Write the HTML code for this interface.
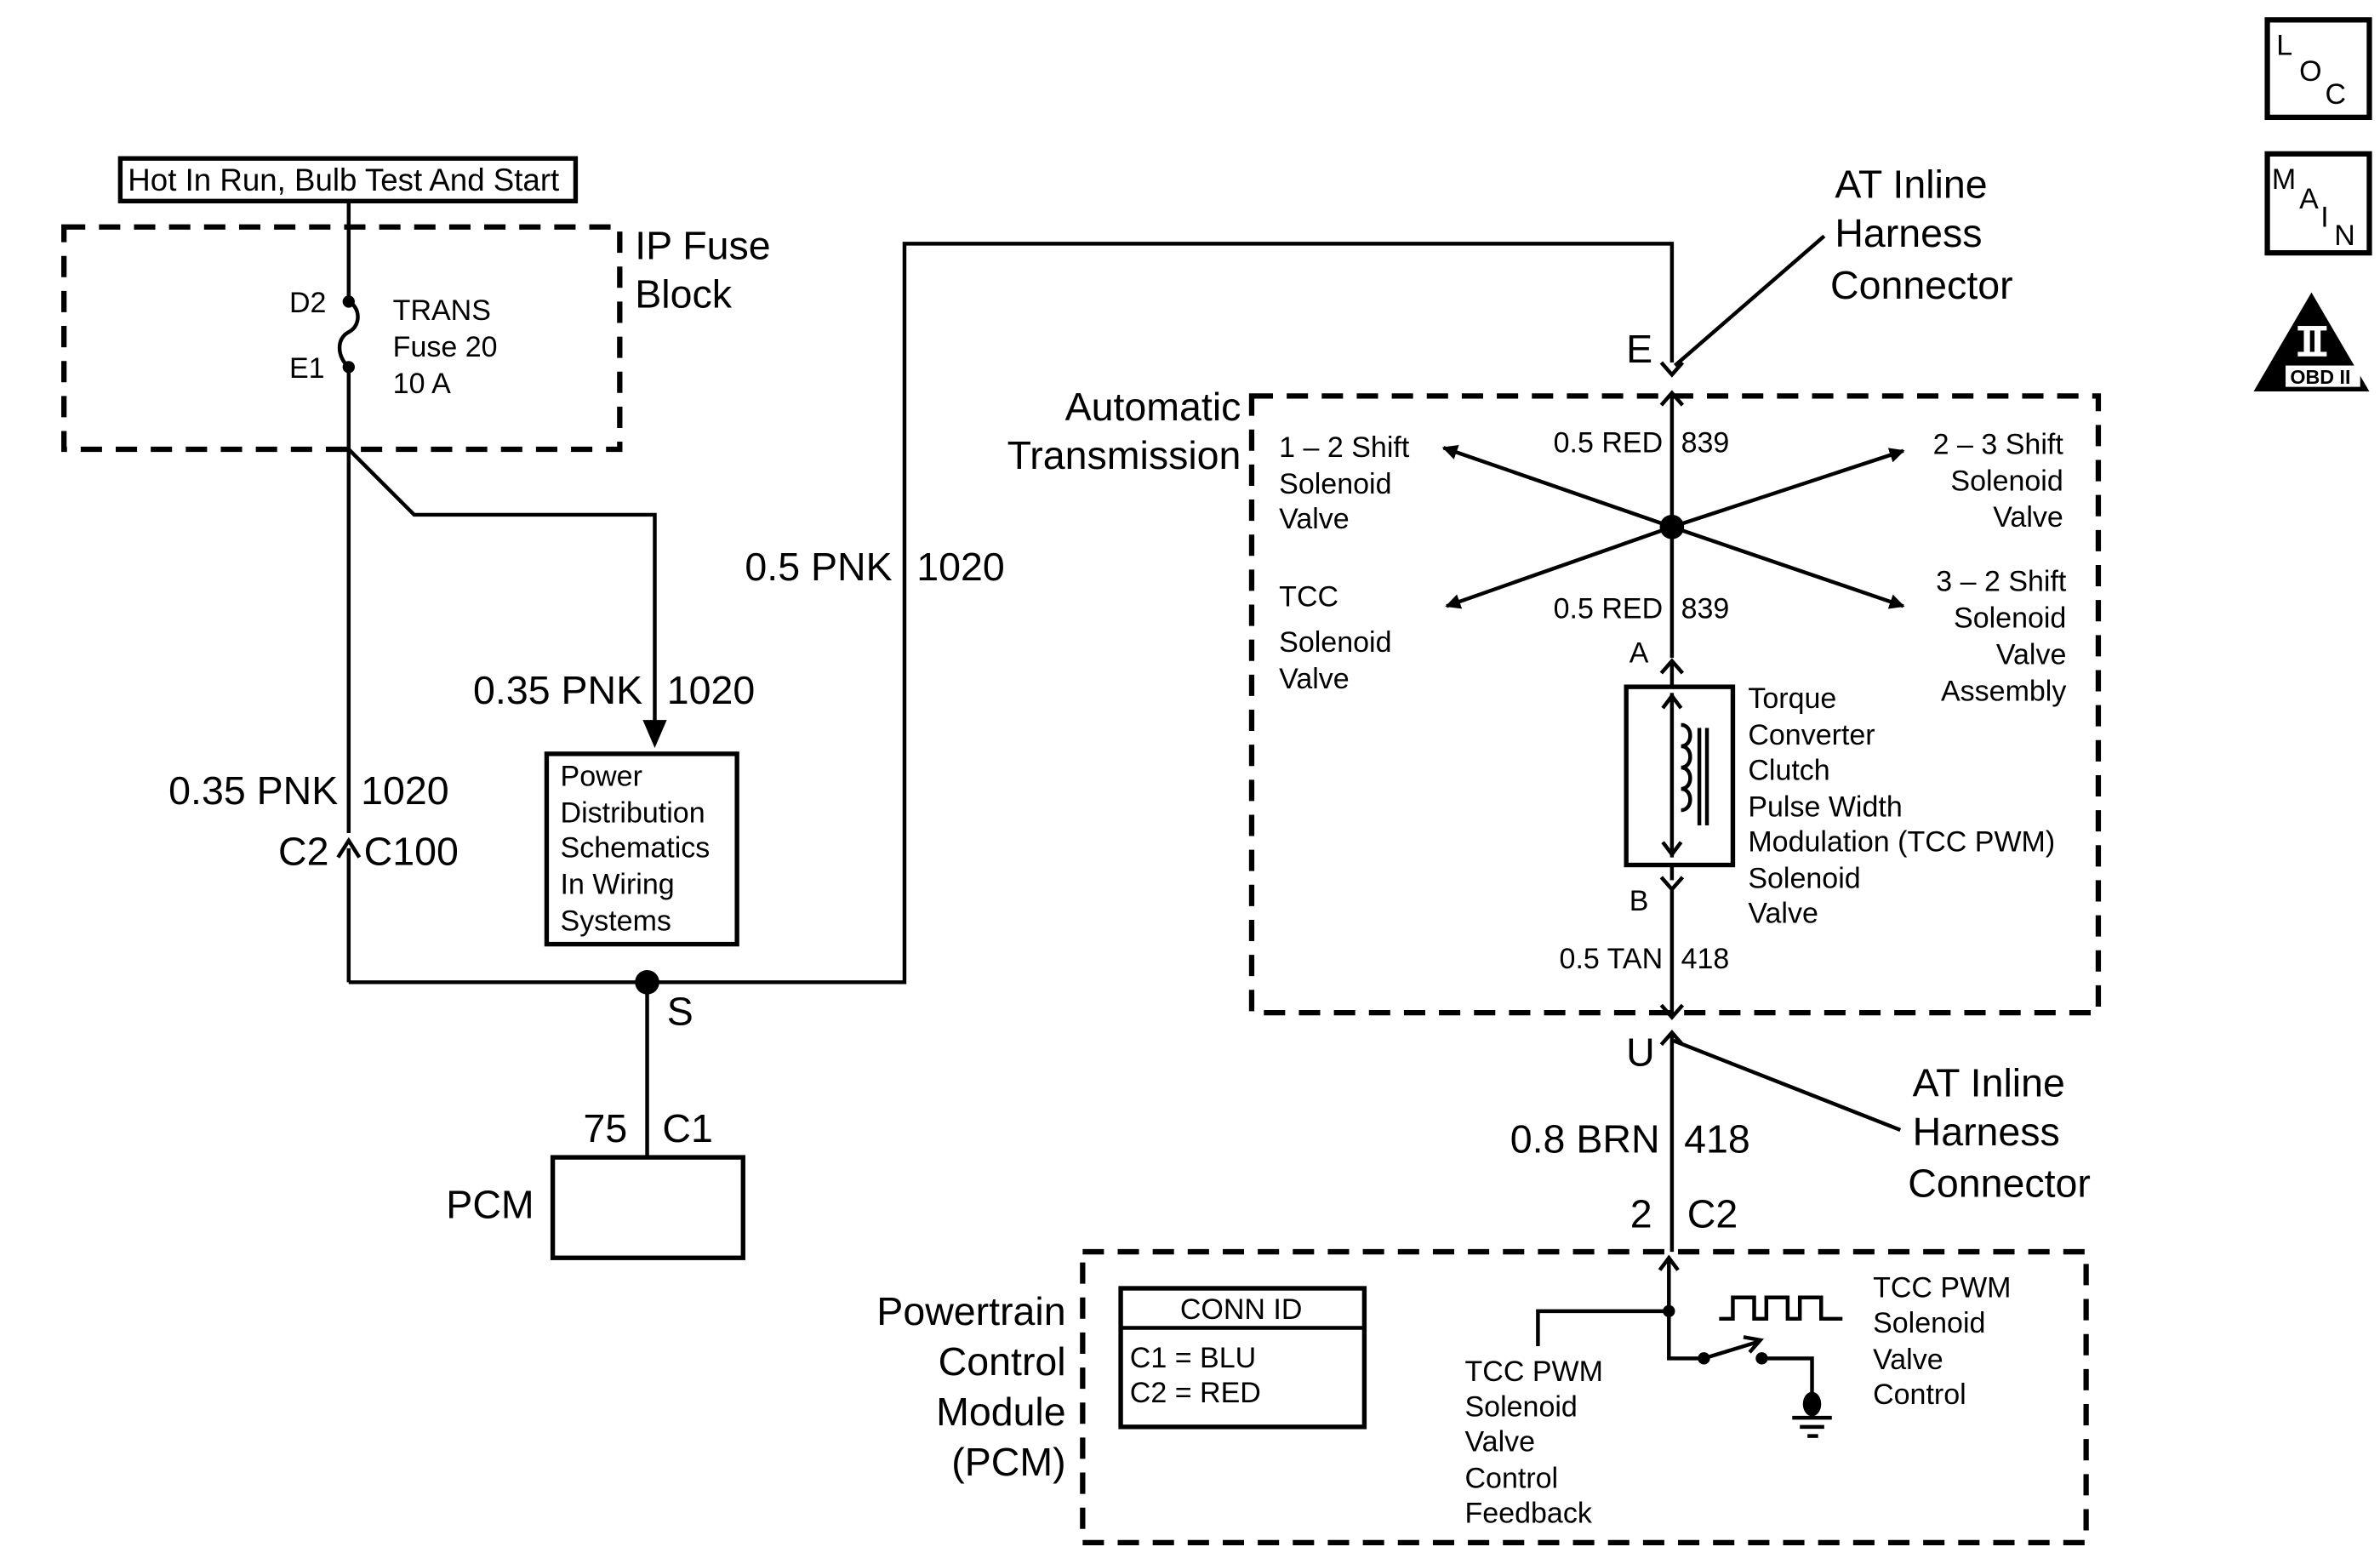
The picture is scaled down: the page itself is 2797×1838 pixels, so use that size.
<!DOCTYPE html>
<html><head><meta charset="utf-8"><style>
html,body{margin:0;padding:0;background:#fff;}
svg{display:block;}
text{font-family:"Liberation Sans",Arial,sans-serif;fill:#000;}
</style></head><body>
<svg width="2797" height="1838" viewBox="0 0 1563 1027" xmlns="http://www.w3.org/2000/svg">
<defs>
<marker id="ar" markerWidth="10" markerHeight="10" refX="9" refY="5" orient="auto" markerUnits="userSpaceOnUse"><path d="M0,0 L10,5 L0,10 z" fill="#000"/></marker>
</defs>
<g fill="none" stroke="#000" stroke-width="2.5">
<rect x="79" y="104" width="299" height="28" stroke-width="3"/>
<rect x="42" y="149" width="365" height="146" stroke-width="3.5" stroke-dasharray="14,9"/>
<rect x="822" y="260" width="556" height="405" stroke-width="3.5" stroke-dasharray="14,9"/>
<rect x="711" y="822" width="659" height="191" stroke-width="3.5" stroke-dasharray="14,9"/>
<path d="M229,132 V198"/>
<path d="M229,198 c8,4 8,16 0,20 c-8,4 -8,16 0,23"/>
<path d="M229,241 V547 M229,557 V645"/>
<path d="M222,563 L229,552 L236,563"/>
<path d="M229,295 L272,338 H430 V482" />
<path d="M424,474 L430,488 L436,474 Z" fill="#000"/>
<rect x="359" y="495" width="125" height="125" stroke-width="3"/>
<path d="M229,645 H594 V160 H1098 V238"/>
<path d="M425,645 V760"/>
<rect x="363" y="760" width="125" height="66" stroke-width="3"/>
<path d="M1091,238 L1098,246 L1105,238"/>
<path d="M1091,266 L1098,258 L1105,266"/>
<path d="M1098,258 V432"/>
<path d="M1100,240 L1198,155"/>
<line x1="1098" y1="346" x2="948" y2="294" marker-end="url(#ar)"/>
<line x1="1098" y1="346" x2="1250" y2="296" marker-end="url(#ar)"/>
<line x1="1098" y1="346" x2="950" y2="398" marker-end="url(#ar)"/>
<line x1="1098" y1="346" x2="1250" y2="398" marker-end="url(#ar)"/>
<path d="M1091,442 L1098,434 L1105,442"/>
<path d="M1098,434 V451"/>
<rect x="1068" y="451" width="70" height="117" stroke-width="3"/>
<path d="M1098,455 V563"/>
<path d="M1092,465 L1098,457 L1104,465 M1092,553 L1098,561 L1104,553"/>
<path d="M1104,476 c8,0 8,14 0,14 c8,0 8,14 0,14 c8,0 8,14 0,14 c8,0 8,14 0,14"/>
<path d="M1116,478 V542 M1121,478 V542"/>
<path d="M1098,568 V578"/>
<path d="M1091,576 L1098,584 L1105,576"/>
<path d="M1098,584 V666"/>
<path d="M1091,660 L1098,668 L1105,660"/>
<path d="M1091,686 L1098,678 L1105,686"/>
<path d="M1098,678 V822"/>
<path d="M1098,683 L1248,742"/>
<!-- inside PCM -->
<path d="M1090,834 L1096,826 L1102,834"/>
<path d="M1096,826 V892 H1119"/>
<path d="M1096,861 H1010 V884"/>
<path d="M1119,892 L1155,881"/>
<path d="M1145,878 L1156,880 L1149,888" />
<path d="M1157,892 H1190 V918"/>
<path d="M1177,931 H1203 M1182,937 H1198" />
<path d="M1187,943 H1194"/>
<path d="M1129,866 H1138 V852 H1152 V866 H1160 V852 H1174 V866 H1182 V852 H1196 V866 H1210"/>
<rect x="736" y="846" width="160" height="91" stroke-width="3"/>
<path d="M736,872 H896"/>
<rect x="1489" y="13" width="67" height="64" stroke-width="3.5"/>
<rect x="1489" y="101" width="67" height="65" stroke-width="3.5"/>
</g>
<g fill="#000">
<circle cx="229" cy="198" r="4"/><circle cx="229" cy="241" r="4"/>
<circle cx="425" cy="645" r="8"/>
<circle cx="1098" cy="346" r="8"/>
<circle cx="1096" cy="861" r="4"/>
<circle cx="1119" cy="892" r="4"/><circle cx="1157" cy="892" r="4"/>
<ellipse cx="1190" cy="922" rx="6" ry="8"/>
<path d="M1518,192 L1556,257 L1480,257 Z"/>
</g>
<rect x="1501" y="240" width="49" height="14" fill="#fff"/>
<rect x="1509" y="214" width="19" height="3" fill="#fff"/>
<rect x="1509" y="231" width="19" height="3" fill="#fff"/>
<rect x="1513" y="216" width="4" height="16" fill="#fff"/>
<rect x="1520" y="216" width="4" height="16" fill="#fff"/>
<text x="1504" y="252" font-size="13" font-weight="bold">OBD II</text>
<text x="1495" y="36" font-size="19">L</text><text x="1510" y="53" font-size="19">O</text><text x="1527" y="68" font-size="19">C</text>
<text x="1492" y="124" font-size="19">M</text><text x="1510" y="137" font-size="19">A</text><text x="1524" y="149" font-size="19">I</text><text x="1533" y="161" font-size="19">N</text>

<g font-size="19">
<text x="84" y="125" font-size="20.5">Hot In Run, Bulb Test And Start</text>
<text x="190" y="205">D2</text><text x="190" y="248">E1</text>
<text x="258" y="210">TRANS</text><text x="258" y="234">Fuse 20</text><text x="258" y="258">10 A</text>
<text x="368" y="516">Power</text><text x="368" y="540">Distribution</text><text x="368" y="563">Schematics</text><text x="368" y="587">In Wiring</text><text x="368" y="611">Systems</text>
<text x="840" y="300">1 – 2 Shift</text><text x="840" y="324">Solenoid</text><text x="840" y="347">Valve</text>
<text x="840" y="398">TCC</text><text x="840" y="428">Solenoid</text><text x="840" y="452">Valve</text>
<g text-anchor="end">
<text x="1355" y="298">2 – 3 Shift</text><text x="1355" y="322">Solenoid</text><text x="1355" y="346">Valve</text>
<text x="1357" y="388">3 – 2 Shift</text><text x="1357" y="412">Solenoid</text><text x="1357" y="436">Valve</text><text x="1357" y="460">Assembly</text>
<text x="1092" y="297">0.5 RED</text><text x="1092" y="406">0.5 RED</text><text x="1092" y="636">0.5 TAN</text>
</g>
<text x="1104" y="297">839</text><text x="1104" y="406">839</text><text x="1104" y="636">418</text>
<text x="1070" y="435">A</text><text x="1070" y="598">B</text>
<text x="1148" y="465">Torque</text><text x="1148" y="489">Converter</text><text x="1148" y="512">Clutch</text><text x="1148" y="536">Pulse Width</text><text x="1148" y="559">Modulation (TCC PWM)</text><text x="1148" y="583">Solenoid</text><text x="1148" y="606">Valve</text>
<text x="775" y="866">CONN ID</text>
<text x="742" y="898">C1 = BLU</text><text x="742" y="921">C2 = RED</text>
<text x="962" y="907">TCC PWM</text><text x="962" y="930">Solenoid</text><text x="962" y="953">Valve</text><text x="962" y="977">Control</text><text x="962" y="1000">Feedback</text>
<text x="1230" y="852">TCC PWM</text><text x="1230" y="875">Solenoid</text><text x="1230" y="899">Valve</text><text x="1230" y="922">Control</text>
</g>
<g font-size="26">
<text x="417" y="170">IP Fuse</text><text x="417" y="202">Block</text>
<text x="422" y="462" text-anchor="end">0.35 PNK</text><text x="438" y="462">1020</text>
<text x="222" y="528" text-anchor="end">0.35 PNK</text><text x="237" y="528">1020</text>
<text x="216" y="568" text-anchor="end">C2</text><text x="239" y="568">C100</text>
<text x="586" y="381" text-anchor="end">0.5 PNK</text><text x="602" y="381">1020</text>
<text x="438" y="673">S</text>
<text x="412" y="750" text-anchor="end">75</text><text x="435" y="750">C1</text>
<text x="293" y="800">PCM</text>
<text x="1205" y="130">AT Inline</text><text x="1205" y="162">Harness</text><text x="1202" y="196">Connector</text>
<text x="1068" y="238">E</text>
<text x="815" y="276" text-anchor="end">Automatic</text><text x="815" y="308" text-anchor="end">Transmission</text>
<text x="1068" y="700">U</text>
<text x="1256" y="720">AT Inline</text><text x="1256" y="752">Harness</text><text x="1253" y="786">Connector</text>
<text x="1090" y="757" text-anchor="end">0.8 BRN</text><text x="1106" y="757">418</text>
<text x="1085" y="806" text-anchor="end">2</text><text x="1108" y="806">C2</text>
<g text-anchor="end">
<text x="700" y="870">Powertrain</text><text x="700" y="903">Control</text><text x="700" y="936">Module</text><text x="700" y="969">(PCM)</text>
</g>
</g>
</svg>
</body></html>
